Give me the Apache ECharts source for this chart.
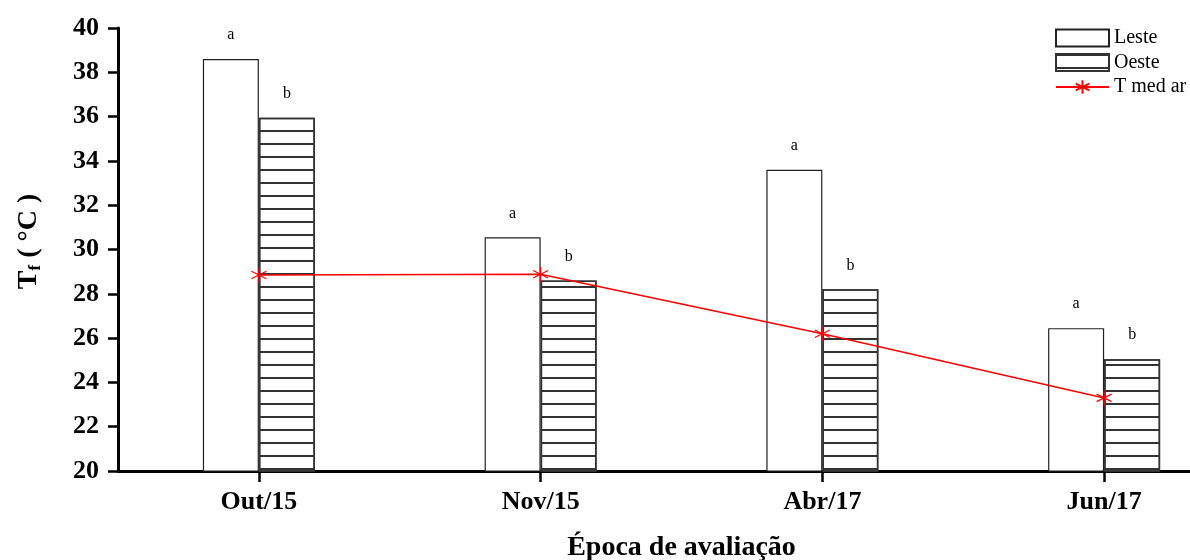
<!DOCTYPE html>
<html>
<head>
<meta charset="utf-8">
<script src="https://cdn.jsdelivr.net/npm/echarts@6/dist/echarts.min.js"></script>
<style>
    html, body { margin: 0; padding: 0; background: #fff; }
    #chart { width: 1190px; height: 560px; }
</style>
</head>
<body>
<div id="chart"></div>
<script>
// Data
const epocas = ['Out/15', 'Nov/15', 'Abr/17', 'Jun/17'];
const leste = [38.6, 30.55, 33.6, 26.45];
const oeste = [35.95, 28.6, 28.2, 25.05];
const tMedAr = [28.85, 28.88, 26.2, 23.3];
const letrasLeste = ['a', 'a', 'a', 'a'];
const letrasOeste = ['b', 'b', 'b', 'b'];

const serif = '"Liberation Serif", "Times New Roman", serif';
const chart = echarts.init(document.getElementById('chart'));

const asterisk = 'path://M0,-1L0,1M-0.87,-0.5L0.87,0.5M-0.87,0.5L0.87,-0.5';

function barLabel(letters, dist) {
    return {
        show: true,
        position: 'top',
        distance: dist,
        fontFamily: serif,
        fontSize: 16,
        color: '#000',
        formatter: p => letters[p.dataIndex]
    };
}

chart.setOption({
    animation: false,
    textStyle: { fontFamily: serif },
    // the plot runs past the right edge of the picture, as in the reference
    grid: { left: 118, top: 28, width: 1127, height: 443, outerBoundsMode: 'none', containLabel: false },
    legend: {
        orient: 'vertical',
        left: 1055,
        top: 28,
        padding: 0,
        itemWidth: 53,
        itemHeight: 17,
        itemGap: 4.5,
        textStyle: { fontFamily: serif, fontSize: 20, color: '#000' },
        data: [
            { name: 'Leste', icon: 'rect' },
            { name: 'Oeste', icon: 'rect' },
            { name: 'T med ar' }
        ]
    },
    xAxis: {
        type: 'category',
        data: epocas,
        name: 'Época de avaliação',
        nameLocation: 'middle',
        nameGap: 63,
        nameTextStyle: { fontFamily: serif, fontSize: 28, fontWeight: 'bold', color: '#000' },
        axisLine: { lineStyle: { color: '#000', width: 3 } },
        axisTick: { show: true, alignWithLabel: true, length: 11, lineStyle: { color: '#000', width: 2.5 } },
        axisLabel: { fontFamily: serif, fontSize: 26, fontWeight: 'bold', color: '#000', margin: 18 }
    },
    yAxis: {
        type: 'value',
        min: 20,
        max: 40,
        interval: 2,
        name: '{a|T}{s|f}{a| ( °C )}',
        nameLocation: 'middle',
        nameGap: 74,
        nameRotate: 90,
        nameTextStyle: {
            padding: [0, 0, 0, 16],
            rich: {
                a: { fontFamily: serif, fontSize: 28, fontWeight: 'bold', color: '#000' },
                s: { fontFamily: serif, fontSize: 17, fontWeight: 'bold', color: '#000', padding: [13, 0, 0, 0] }
            }
        },
        splitLine: { show: false },
        axisLine: { show: true, lineStyle: { color: '#000', width: 3 } },
        axisTick: { show: true, length: 10, lineStyle: { color: '#000', width: 2.5 } },
        axisLabel: { fontFamily: serif, fontSize: 26, fontWeight: 'bold', color: '#000', margin: 19 }
    },
    series: [
        {
            name: 'Leste',
            type: 'bar',
            data: leste,
            barWidth: 56,
            barGap: '0%',
            itemStyle: { color: '#fff', borderColor: '#222', borderWidth: 1.2 },
            label: barLabel(letrasLeste, 16)
        },
        {
            name: 'Oeste',
            type: 'bar',
            data: oeste,
            barWidth: 56,
            itemStyle: {
                color: '#fff',
                borderColor: '#333',
                borderWidth: 1.5,
                decal: {
                    symbol: 'rect',
                    symbolSize: 1,
                    dashArrayX: [1, 0],
                    dashArrayY: [1.5, 10.5],
                    rotation: 0,
                    color: '#333'
                }
            },
            label: barLabel(letrasOeste, 16)
        },
        {
            name: 'T med ar',
            type: 'line',
            data: tMedAr,
            z: 5,
            symbol: asterisk,
            symbolSize: 15,
            lineStyle: { color: '#ff0000', width: 1.5 },
            itemStyle: { color: 'none', borderColor: '#ff0000', borderWidth: 1.2 }
        }
    ]
});
</script>
</body>
</html>
